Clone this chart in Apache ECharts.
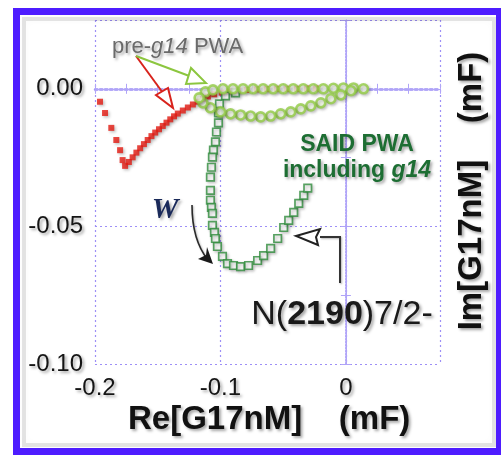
<!DOCTYPE html>
<html>
<head>
<meta charset="utf-8">
<script src="https://cdn.jsdelivr.net/npm/echarts@6/dist/echarts.min.js"></script>
<style>
  html, body { margin: 0; padding: 0; background: #fff; }
  #chart { width: 501px; height: 455px; }
</style>
</head>
<body>
<div id="chart"></div>
<script>
// Axis tick labels
const xTickValues = [-0.2, -0.1, 0];
const xTickLabels = ['-0.2', '-0.1', '0'];
const yTickValues = [0, -0.05, -0.10];
const yTickLabels = ['0.00', '-0.05', '-0.10'];

// pre-g14 PWA solution (red points): Re, Im in mF
const preRe = [-0.196, -0.192, -0.187, -0.183, -0.180, -0.178, -0.176,
  -0.173, -0.170, -0.167, -0.164, -0.161, -0.158, -0.155, -0.152, -0.149, -0.146,
  -0.143, -0.140, -0.137, -0.134, -0.130, -0.126, -0.122, -0.118, -0.114, -0.110,
  -0.105, -0.099, -0.093, -0.086, -0.079, -0.071, -0.063, -0.055, -0.047, -0.039,
  -0.031, -0.024];
const preIm = [-0.0047, -0.0088, -0.0142, -0.0186, -0.0223, -0.0259, -0.0280,
  -0.0266, -0.0249, -0.0232, -0.0216, -0.0201, -0.0186, -0.0172, -0.0159, -0.0147, -0.0135,
  -0.0123, -0.0111, -0.0100, -0.0090, -0.0079, -0.0068, -0.0057, -0.0047, -0.0037, -0.0028,
  -0.0020, -0.0014, -0.0009, -0.0006, -0.0004, -0.0002, -0.0001, 0.0000, 0.0000, 0.0000,
  0.0001, 0.0001];

// pre-g14 PWA loop (light green circles)
const loopRe = [-0.112, -0.106, -0.098, -0.090, -0.082, -0.074, -0.066, -0.058, -0.050,
  -0.042, -0.034, -0.026, -0.018, -0.010, -0.002, 0.006, 0.014,
  0.004, -0.004, -0.012, -0.020, -0.028, -0.036, -0.044, -0.052, -0.060, -0.068,
  -0.076, -0.084, -0.092, -0.100, -0.108, -0.114, -0.117];
const loopIm = [-0.0011, -0.0004, 0.0000, 0.0000, 0.0000, 0.0000, 0.0000, 0.0000, 0.0000,
  0.0000, 0.0000, 0.0000, 0.0000, 0.0002, 0.0003, 0.0003, 0.0000,
  -0.0007, -0.0022, -0.0036, -0.0051, -0.0062, -0.0073, -0.0084, -0.0091, -0.0099, -0.0102,
  -0.0099, -0.0095, -0.0091, -0.0084, -0.0069, -0.0051, -0.0033];

// SAID PWA including g14 (dark green squares)
const saidRe = [-0.088, -0.096, -0.1008, -0.1016, -0.1016, -0.1032, -0.104, -0.1056, -0.1064,
  -0.1072, -0.108, -0.108, -0.108, -0.1072, -0.1064, -0.1064, -0.1048, -0.104, -0.1024,
  -0.0984, -0.0944, -0.0896, -0.084, -0.0776, -0.0704, -0.0656, -0.060, -0.0544, -0.0496,
  -0.0456, -0.0416, -0.0376, -0.0336, -0.0304];
const saidIm = [-0.0015, -0.0026, -0.0055, -0.0088, -0.0124, -0.0157, -0.0193, -0.0223, -0.0248,
  -0.0285, -0.0321, -0.0369, -0.0405, -0.0431, -0.0453, -0.0496, -0.0522, -0.0544, -0.0573,
  -0.0609, -0.0635, -0.0642, -0.0646, -0.0642, -0.0624, -0.0606, -0.058, -0.0544, -0.0504,
  -0.0478, -0.0449, -0.0416, -0.0387, -0.0361];

const pairs = (a, b) => a.map((v, i) => [v, b[i]]);
const FONT = '"Liberation Sans", Arial, Helvetica, sans-serif';
const SHADOW = { textShadowColor: 'rgba(0,0,0,0.35)', textShadowBlur: 3, textShadowOffsetX: 2, textShadowOffsetY: 2 };
const frameColor = '#b0a4f8';
const gridColor = '#9d8ff6';

function pick(values, labels) {
  return function (v) {
    for (let i = 0; i < values.length; i++) {
      if (Math.abs(v - values[i]) < 1e-9) return labels[i];
    }
    return '';
  };
}

const chart = echarts.init(document.getElementById('chart'), null, { renderer: 'canvas' });

const tickAxisBase = {
  type: 'value',
  axisTick: { show: true, inside: true, length: 5, lineStyle: { color: frameColor, width: 1 } },
  splitLine: { show: false }
};

chart.setOption({
  animation: false,
  backgroundColor: '#ffffff',
  grid: { left: 95, right: 61, top: 20, bottom: 91, containLabel: false },
  xAxis: [
    Object.assign({}, tickAxisBase, {
      position: 'bottom', min: -0.2, max: 0.075, interval: 0.025,
      axisLine: { show: true, lineStyle: { color: gridColor, width: 2.5, type: 'dotted' } },
      axisLabel: Object.assign({
        formatter: pick(xTickValues, xTickLabels), margin: 12,
        fontFamily: FONT, fontSize: 24, color: '#151515'
      }, SHADOW)
    }),
    Object.assign({}, tickAxisBase, {
      position: 'top', min: -0.2, max: 0.075, interval: 0.025,
      axisLine: { show: true, lineStyle: { color: frameColor, width: 1 } },
      axisLabel: { show: false }
    }),
    {
      type: 'value', position: 'bottom', min: -0.2, max: 0.075, interval: 0.1,
      axisLine: { show: false }, axisTick: { show: false }, axisLabel: { show: false },
      splitLine: { show: true, lineStyle: { color: gridColor, width: 1.2, type: [2, 3] } }
    }
  ],
  yAxis: [
    Object.assign({}, tickAxisBase, {
      position: 'left', min: -0.10, max: 0.025, interval: 0.025,
      axisLine: { show: true, lineStyle: { color: gridColor, width: 1.5, type: 'dotted' } },
      axisLabel: Object.assign({
        formatter: pick(yTickValues, yTickLabels), margin: 12,
        fontFamily: FONT, fontSize: 24, color: '#151515'
      }, SHADOW)
    }),
    Object.assign({}, tickAxisBase, {
      position: 'right', min: -0.10, max: 0.025, interval: 0.025,
      axisLine: { show: true, lineStyle: { color: frameColor, width: 1 } },
      axisLabel: { show: false }
    }),
    {
      type: 'value', position: 'left', min: -0.10, max: 0.025, interval: 0.05,
      axisLine: { show: false }, axisTick: { show: false }, axisLabel: { show: false },
      splitLine: { show: true, lineStyle: { color: gridColor, width: 1.2, type: [2, 3] } }
    }
  ],
  series: [
    {
      name: 'pre-g14 PWA', type: 'scatter', xAxisIndex: 0, yAxisIndex: 0, z: 3,
      symbol: 'rect', symbolSize: 6,
      itemStyle: { color: '#e31a12', shadowColor: 'rgba(0,0,0,0.3)', shadowBlur: 3, shadowOffsetX: 1.5, shadowOffsetY: 1.5 },
      data: pairs(preRe, preIm)
    },
    {
      name: 'SAID PWA including g14', type: 'scatter', xAxisIndex: 0, yAxisIndex: 0, z: 4,
      symbol: 'rect', symbolSize: 7.5,
      itemStyle: { color: '#ffffff', borderColor: '#2f8c3c', borderWidth: 1.7,
        shadowColor: 'rgba(0,0,0,0.25)', shadowBlur: 3, shadowOffsetX: 1.5, shadowOffsetY: 1.5 },
      data: pairs(saidRe, saidIm)
    },
    {
      name: 'pre-g14 PWA loop', type: 'scatter', xAxisIndex: 0, yAxisIndex: 0, z: 5,
      symbol: 'circle', symbolSize: 9,
      itemStyle: { color: '#f4fbe8', borderColor: '#92cc45', borderWidth: 2.6,
        shadowColor: 'rgba(0,0,0,0.25)', shadowBlur: 3, shadowOffsetX: 1.5, shadowOffsetY: 1.5 },
      data: pairs(loopRe, loopIm)
    }
  ],
  graphic: [
    // outer frame
    { type: 'rect', z: 100, silent: true,
      shape: { x: 24, y: 19, width: 470, height: 426 },
      style: { fill: 'none', stroke: 'rgba(0,0,0,0.10)', lineWidth: 4, shadowColor: 'rgba(0,0,0,0.25)', shadowBlur: 6 } },
    { type: 'rect', z: 101, silent: true,
      shape: { x: 16.5, y: 11.5, width: 483, height: 440 },
      style: { fill: 'none', stroke: '#4e1cff', lineWidth: 7 } },

    // axis titles
    { type: 'text', z: 50, left: 128, top: 403,
      style: Object.assign({ text: 'Re[G17nM]    (mF)', font: 'bold 33px ' + FONT, fill: '#111' }, SHADOW) },
    { type: 'text', z: 50, x: 472, y: 191, rotation: Math.PI / 2,
      style: Object.assign({ text: 'Im[G17nM]    (mF)', font: 'bold 33px ' + FONT, fill: '#111',
        align: 'center', verticalAlign: 'middle' }, SHADOW) },

    // annotations
    { type: 'text', z: 50, x: 112, y: 47,
      style: Object.assign({
        text: '{n|pre-}{i|g14}{n| PWA}', verticalAlign: 'middle',
        rich: {
          n: { font: '22px ' + FONT, fill: '#6a6a6a' },
          i: { font: 'italic 22px ' + FONT, fill: '#6a6a6a' }
        }
      }, SHADOW) },
    { type: 'text', z: 50, x: 357, y: 145,
      style: Object.assign({ text: 'SAID PWA', font: 'bold 23px ' + FONT, fill: '#1d6e33',
        align: 'center', verticalAlign: 'middle' }, SHADOW) },
    { type: 'text', z: 50, x: 357, y: 171,
      style: Object.assign({
        text: '{n|including }{i|g14}', align: 'center', verticalAlign: 'middle',
        rich: {
          n: { font: 'bold 23px ' + FONT, fill: '#1d6e33' },
          i: { font: 'italic bold 23px ' + FONT, fill: '#1d6e33' }
        }
      }, SHADOW) },
    { type: 'text', z: 50, x: 165, y: 210,
      style: Object.assign({ text: 'W', font: 'italic bold 30px "Liberation Serif", "Times New Roman", serif',
        fill: '#1a2a5a', align: 'center', verticalAlign: 'middle' }, SHADOW) },
    { type: 'text', z: 50, x: 342, y: 315,
      style: Object.assign({
        text: '{n|N(}{b|2190}{n|)7/2-}', align: 'center', verticalAlign: 'middle',
        rich: {
          n: { font: '34px ' + FONT, fill: '#1a1a1a' },
          b: { font: 'bold 34px ' + FONT, fill: '#1a1a1a' }
        }
      }, SHADOW) },

    // pointer arrows
    { type: 'line', z: 40, shape: { x1: 136, y1: 56, x2: 171, y2: 104 },
      style: { stroke: '#d8231c', lineWidth: 2 } },
    { type: 'polygon', z: 40, shape: { points: [[173, 108], [156, 95], [168, 88]] },
      style: { fill: '#fff', stroke: '#d8231c', lineWidth: 2 } },
    { type: 'line', z: 40, shape: { x1: 136, y1: 56, x2: 200, y2: 80 },
      style: { stroke: '#8cc63f', lineWidth: 2 } },
    { type: 'polygon', z: 40, shape: { points: [[206, 83], [186, 84], [191, 68]] },
      style: { fill: '#fff', stroke: '#8cc63f', lineWidth: 2 } },
    { type: 'bezierCurve', z: 40, shape: { x1: 192, y1: 205, cpx1: 192, cpy1: 240, x2: 208, y2: 260 },
      style: { stroke: '#2a2a2a', lineWidth: 1.6, fill: 'none', shadowColor: 'rgba(0,0,0,0.3)', shadowBlur: 2, shadowOffsetX: 1, shadowOffsetY: 1 } },
    { type: 'polygon', z: 40, shape: { points: [[213, 264], [198, 259], [206, 255], [207, 247]] },
      style: { fill: '#1a1a1a' } },
    { type: 'polyline', z: 40, shape: { points: [[340, 283], [340, 237], [320, 237]] },
      style: { stroke: '#333', lineWidth: 2, fill: 'none', shadowColor: 'rgba(0,0,0,0.3)', shadowBlur: 2, shadowOffsetX: 1, shadowOffsetY: 1 } },
    { type: 'polygon', z: 40, shape: { points: [[296, 236], [320, 229], [316, 237], [318, 245]] },
      style: { fill: '#fff', stroke: '#222', lineWidth: 2 } }
  ]
});
</script>
</body>
</html>
